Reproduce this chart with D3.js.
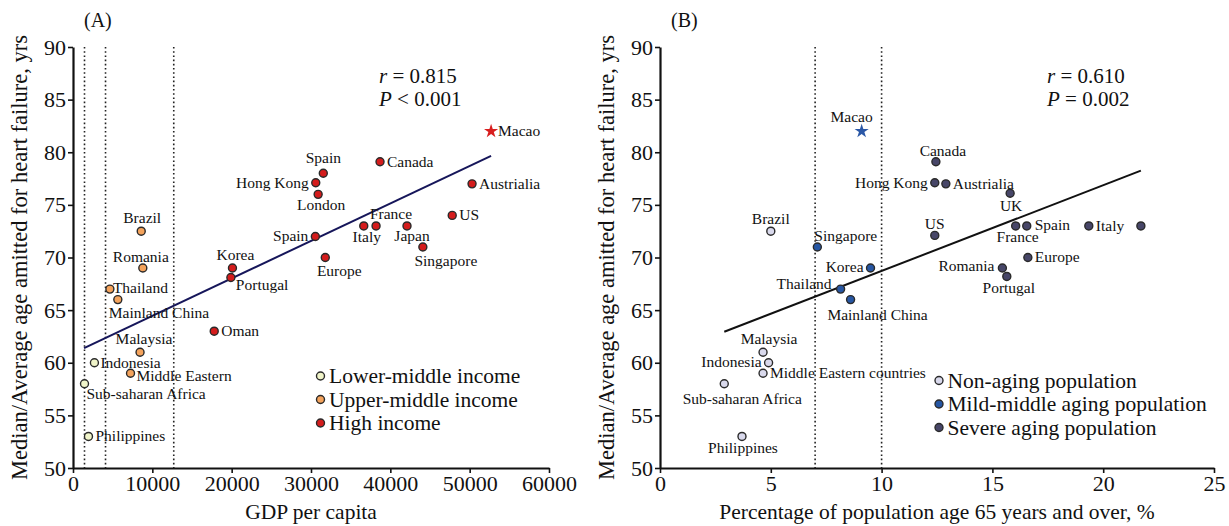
<!DOCTYPE html>
<html>
<head>
<meta charset="utf-8">
<script src="https://cdn.jsdelivr.net/npm/d3@7"></script>
<style>
  body { margin: 0; background: #fff; }
  svg { display: block; }
  text { font-family: "Liberation Serif", "Times New Roman", serif; fill: #111; }
</style>
</head>
<body>
<svg id="chart" width="1229" height="526"></svg>
<script>
// ---------- Panel A: GDP per capita vs age at heart failure ----------
const namesA  = ["Macao", "Canada", "Austrialia", "US", "Spain", "Hong Kong", "London", "Spain",
                 "France", "Italy", "Japan", "Singapore", "Europe", "Korea", "Portugal", "Oman",
                 "Brazil", "Romania", "Thailand", "Mainland China", "Malaysia", "Indonesia",
                 "Middle Eastern", "Sub-saharan Africa", "Philippines"];
const gdpA    = [52700, 38700, 50300, 47800, 31550, 30600, 30900, 30550,
                 38200, 36650, 42100, 44100, 31800, 20100, 19900, 17800,
                 8600, 8800, 4650, 5650, 8450, 2700,
                 7250, 1450, 1950];
const ageA    = [82, 79.1, 77, 74, 78, 77.1, 76, 72,
                 73, 73, 73, 71, 70, 69, 68.1, 63,
                 72.5, 69, 67, 66, 61, 60,
                 59, 58, 53];
const incomeA = ["High", "High", "High", "High", "High", "High", "High", "High",
                 "High", "High", "High", "High", "High", "High", "High", "High",
                 "Upper", "Upper", "Upper", "Upper", "Upper", "Lower",
                 "Upper", "Lower", "Lower"];
const incomeGroups = ["Lower", "Upper", "High"];
const incomeLabels = ["Lower-middle income", "Upper-middle income", "High income"];
const incomeCuts   = [1450, 4100, 12700];
const fitA = { x0: 1390, x1: 52700, slope: 0.0003558, intercept: 60.9 };
const statsA = ["r = 0.815", "P < 0.001"];

// ---------- Panel B: aged population share vs age at heart failure ----------
const namesB  = ["Macao", "Canada", "Hong Kong", "Austrialia", "UK", "US", "France", "Spain",
                 "Italy", "Japan", "Europe", "Romania", "Portugal", "Brazil", "Singapore",
                 "Korea", "Thailand", "Mainland China", "Malaysia", "Indonesia",
                 "Middle Eastern countries", "Sub-saharan Africa", "Philippines"];
const agedB   = [9.1, 12.45, 12.4, 12.9, 15.8, 12.4, 16.05, 16.55,
                 19.35, 21.7, 16.6, 15.45, 15.65, 5.0, 7.1,
                 9.5, 8.15, 8.6, 4.65, 4.9,
                 4.65, 2.9, 3.7];
const ageB    = [82, 79.1, 77.1, 77, 76.1, 72.1, 73, 73,
                 73, 73, 70, 69, 68.2, 72.5, 71,
                 69, 67, 66, 61, 60,
                 59, 58, 53];
const agingB  = ["Mild", "Severe", "Severe", "Severe", "Severe", "Severe", "Severe", "Severe",
                 "Severe", "Severe", "Severe", "Severe", "Severe", "Non", "Mild",
                 "Mild", "Mild", "Mild", "Non", "Non",
                 "Non", "Non", "Non"];
const agingGroups = ["Non", "Mild", "Severe"];
const agingLabels = ["Non-aging population", "Mild-middle aging population", "Severe aging population"];
const agingCuts   = [7, 10];
const fitB = { x0: 2.9, x1: 21.7, slope: 0.8143, intercept: 60.58 };
const statsB = ["r = 0.610", "P = 0.002"];

// Shared axis ticks
const ageTicks = [50, 55, 60, 65, 70, 75, 80, 85, 90];
const gdpTicks = [0, 10000, 20000, 30000, 40000, 50000, 60000];
const agedTicks = [0, 5, 10, 15, 20, 25];
const yTitle = "Median/Average age amitted for heart failure, yrs";

// ---------- Styling & label placement (anchor, dx, dy in px) ----------
const colorA = { Lower: "#f0f4c9", Upper: "#f4a35c", High: "#d41c1c" };
const colorB = { Non: "#d9d9ec", Mild: "#2656a3", Severe: "#474668" };
const starA = "#d81e1e", starB = "#2a57a6";

const labelPosA = [
  ["start", 7, 5], ["start", 7, 5], ["start", 7, 5], ["start", 7, 5],
  ["middle", 0, -10], ["end", -7, 5], ["middle", 3, 16], ["end", -7, 5],
  ["middle", 15, -7], ["middle", 3, 16], ["middle", 5, 15], ["middle", 23, 19],
  ["middle", 14, 18], ["middle", 3, -8], ["start", 5, 13], ["start", 7, 5],
  ["middle", 1, -8], ["middle", -2, -6], ["start", 3, 4], ["start", -9, 18],
  ["middle", 4, -8], ["start", 6, 5], ["start", 6, 8], ["start", 2, 15],
  ["start", 7, 5]
];
const labelPosB = [
  ["middle", -10, -9], ["middle", 7, -6], ["end", -7, 5], ["start", 7, 5],
  ["middle", 1, 18], ["middle", 0, -6], ["middle", 2, 16], ["start", 8, 4],
  ["start", 7, 5], null, ["start", 7, 4], ["end", -8, 3], ["middle", 2, 17],
  ["middle", 0, -7], ["start", -3, -6],
  ["end", -7, 4], ["end", -9, 0], ["middle", 27, 20], ["middle", 6, -8], ["end", -7, 4],
  ["start", 7, 5], ["middle", 18, 20], ["middle", 1, 17]
];

const svg = d3.select("#chart");
svg.append("rect").attr("width", 1229).attr("height", 526).attr("fill", "#fff");

const plotTop = 47, plotBottom = 468;

function drawPanel(opt) {
  const g = svg.append("g");
  const x = d3.scaleLinear().domain(opt.xDomain).range([opt.left, opt.right]);
  const y = d3.scaleLinear().domain([50, 90]).range([plotBottom, plotTop]);

  // axes
  const xa = g.append("g").attr("transform", `translate(0,${plotBottom})`)
    .call(d3.axisBottom(x).tickValues(opt.xTicks).tickFormat(d3.format("d"))
      .tickSize(5).tickSizeOuter(0).tickPadding(2));
  const ya = g.append("g").attr("transform", `translate(${opt.left},0)`)
    .call(d3.axisLeft(y).tickValues(ageTicks).tickSize(5).tickSizeOuter(0).tickPadding(2));
  [xa, ya].forEach(a => {
    a.select(".domain").attr("stroke", "#111").attr("stroke-width", 2.2);
    a.selectAll(".tick line").attr("stroke", "#111").attr("stroke-width", 1.6);
    a.selectAll(".tick text").style("font-size", "22px").attr("fill", "#111");
  });

  // group thresholds
  g.selectAll("line.cut").data(opt.cuts).join("line").attr("class", "cut")
    .attr("x1", d => x(d)).attr("x2", d => x(d))
    .attr("y1", y(90)).attr("y2", y(50))
    .attr("stroke", "#222").attr("stroke-width", 1.6).attr("stroke-dasharray", "1.6,2.6");

  // fitted line
  g.append("line")
    .attr("x1", x(opt.fit.x0)).attr("y1", y(opt.fit.intercept + opt.fit.slope * opt.fit.x0))
    .attr("x2", x(opt.fit.x1)).attr("y2", y(opt.fit.intercept + opt.fit.slope * opt.fit.x1))
    .attr("stroke", opt.fitColor).attr("stroke-width", 2);

  // points
  const pts = opt.names.map((n, i) => ({ n, xv: opt.xs[i], yv: opt.ys[i], grp: opt.grps[i], lp: opt.labelPos[i] }));
  pts.forEach(p => {
    if (p.n === "Macao") {
      g.append("path").attr("d", d3.symbol(d3.symbolStar, 62)())
        .attr("transform", `translate(${x(p.xv)},${y(p.yv)})`)
        .attr("fill", opt.star);
    } else {
      g.append("circle").attr("cx", x(p.xv)).attr("cy", y(p.yv)).attr("r", 4)
        .attr("fill", opt.colors[p.grp]).attr("stroke", "#2a2a2a").attr("stroke-width", 1.4);
    }
    if (p.lp) {
      g.append("text").attr("x", x(p.xv) + p.lp[1]).attr("y", y(p.yv) + p.lp[2])
        .attr("text-anchor", p.lp[0]).style("font-size", "15.5px").text(p.n);
    }
  });

  // stats
  opt.stats.forEach((s, i) => {
    const [a, b] = s.split(/ (.*)/);
    const t = g.append("text").attr("x", opt.statX).attr("y", 83 + i * 23).style("font-size", "21px");
    t.append("tspan").style("font-style", "italic").text(a);
    t.append("tspan").text(" " + b);
  });

  // legend
  opt.groups.forEach((k, i) => {
    const ly = opt.legY + i * 23.5;
    g.append("circle").attr("cx", opt.legX).attr("cy", ly).attr("r", 4)
      .attr("fill", opt.colors[k]).attr("stroke", "#2a2a2a").attr("stroke-width", 1.4);
    g.append("text").attr("x", opt.legX + 8.5).attr("y", ly + 7).style("font-size", "21.5px").text(opt.legLabels[i]);
  });

  // titles
  g.append("text").attr("x", (opt.left + opt.right) / 2).attr("y", 519).attr("text-anchor", "middle")
    .style("font-size", "21.5px").text(opt.xTitle);
  g.append("text").attr("transform", `translate(${opt.left - 46},${(plotTop + plotBottom) / 2}) rotate(-90)`)
    .attr("text-anchor", "middle").style("font-size", "22.5px").text(yTitle);
  g.append("text").attr("x", opt.left + 11).attr("y", 27).style("font-size", "20px").text(opt.tag);
}

drawPanel({
  left: 73, right: 549, xDomain: [0, 60000], xTicks: gdpTicks,
  names: namesA, xs: gdpA, ys: ageA, grps: incomeA, labelPos: labelPosA,
  colors: colorA, star: starA, cuts: incomeCuts, fit: fitA, fitColor: "#16165a",
  stats: statsA, statX: 379, groups: incomeGroups, legLabels: incomeLabels,
  legX: 320.5, legY: 376, xTitle: "GDP per capita", tag: "(A)"
});
drawPanel({
  left: 660, right: 1214, xDomain: [0, 25], xTicks: agedTicks,
  names: namesB, xs: agedB, ys: ageB, grps: agingB, labelPos: labelPosB,
  colors: colorB, star: starB, cuts: agingCuts, fit: fitB, fitColor: "#111",
  stats: statsB, statX: 1047, groups: agingGroups, legLabels: agingLabels,
  legX: 939, legY: 380.5, xTitle: "Percentage of population age 65 years and over, %", tag: "(B)"
});
</script>
</body>
</html>
